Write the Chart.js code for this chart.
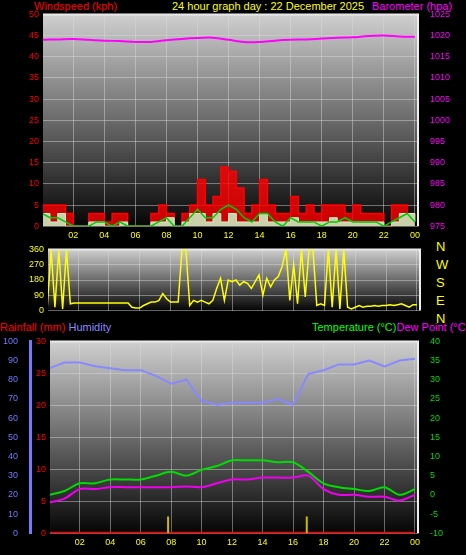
<!DOCTYPE html>
<html><head><meta charset="utf-8">
<script src="https://cdn.jsdelivr.net/npm/chart.js@4/dist/chart.umd.min.js"></script>
<style>
body{margin:0;background:#000;width:466px;height:555px;overflow:hidden;position:relative;font-family:"Liberation Sans",Arial,sans-serif}
canvas{position:absolute;left:0}
.t{position:absolute;font-size:11px;white-space:nowrap;line-height:12px}
</style></head><body>
<div class="t" style="left:34px;top:0;color:#f00">Windspeed (kph)</div>
<div class="t" style="left:172px;top:0;color:#ff0">24 hour graph day : 22 December 2025</div>
<div class="t" style="left:372px;top:0;color:#f0f">Barometer (hpa)</div>
<div class="t" style="left:0;top:321px;color:#f00">Rainfall (mm) <span style="color:#88f">Humidity</span></div>
<div class="t" style="left:312px;top:321px;color:#0f0">Temperature (°C)<span style="color:#f0f">Dew Point (°C)</span></div>
<div class="t" style="left:436px;top:238px;color:#ff0;font-size:13px;line-height:18px">N<br>W<br>S<br>E<br>N</div>
<canvas id="c1" width="466" height="240" style="top:5px"></canvas>
<canvas id="c2" width="466" height="80" style="top:240px"></canvas>
<canvas id="c3" width="466" height="220" style="top:332px"></canvas>
<script>
// half-hourly wind (kph), 0..24h
const windHours = [0,0.5,1,1.5,2,2.5,3,3.5,4,4.5,5,5.5,6,6.5,7,7.5,8,8.5,9,9.5,10,10.5,11,11.5,12,12.5,13,13.5,14,14.5,15,15.5,16,16.5,17,17.5,18,18.5,19,19.5,20,20.5,21,21.5,22,22.5,23,23.5,24];
const gust  = [5,5,5,3,0,0,3,3,1,3,3,0,0,0,3,5,3,0,3,5,11,5,7,14,13,9,3,5,11,5,3,3,7,3,5,3,5,5,5,3,5,3,3,3,0,5,5,3,3];
const speed = [3,1,3,0,0,0,1,1,0,0,1,0,0,0,1,1,2,0,1,3,3,1,3,1,3,1,1,1,3,1,1,1,2,1,1,1,1,2,1,1,1,1,1,1,0,1,3,3,1];
const avg   = [3,2,2,1,0,0,0,1,1,0,1,0,0,0,0,1,2,0,0,2,4,2,2,4,5,4,2,1,3,3,1,0,2,1,1,1,0,1,1,2,1,1,1,1,0,1,2,3,1];
const pressHours = [0,1,2,3,4,5,6,7,8,9,10,11,12,13,14,15,16,17,18,19,20,21,22,23,24];
const pressure = [1019,1019.1,1019.2,1019,1018.8,1018.7,1018.5,1018.5,1018.9,1019.2,1019.4,1019.5,1019,1018.5,1018.5,1018.8,1019,1019.1,1019.3,1019.5,1019.6,1019.9,1020,1019.8,1019.7];
// quarter-hourly wind direction
const dirHours = Array.from({length:97},(_,i)=>i/4);
const direction = [20,360,20,360, 10,360,40,45, 45,45,45,45, 45,45,45,45, 45,45,45,45, 45,45,20,15,
 15,30,40,50, 50,60,100,70, 50,50,50,360, 360,30,60,50, 60,50,40,60, 130,190,60,180, 170,180,150,170,
 160,130,170,210, 90,190,140,180, 200,260,360,60, 270,40,360,80, 360,360,30,40, 30,360,20,360,
 10,360,20,10, 20,30,20,25, 25,30,25,30, 30,35,30,35, 40,30,20,35, 35];
const humidity = [86,89,89,87,86,85,85,82,78,80,69,67,68,68,68,70,67,83,85,88,88,90,87,90,91];
const temperature = [0,1,3,3,4,4,4,5,6,5,6.5,7.5,9,9,9,8.5,8.5,6,3,2,1.5,1,2,0,1.5];
const dewPoint = [-2,-1,1.5,1.5,2,2,2,2,2,2.2,2,3,4,4,4.5,4.5,4.5,5,1.5,0,0,-0.5,-0.5,-1.5,0];
const rainfall = [0,0,0,0,0,0,0,0,0,0,0,0,0,0,0,0,0,0,0,0,0,0,0,0,0];
const markTimes = [7.8,16.9];
const hourTicks = [2,4,6,8,10,12,14,16,18,20,22,24];

const pts = (xs,ys)=>ys.map((y,i)=>({x:xs[i],y:y}));
const F = {family:"Liberation Sans",size:9};
const grid = {color:'rgba(220,220,220,0.45)',borderDash:[1,2],drawTicks:false};
const bg = {id:'bg',beforeDraw(c){const a=c.chartArea,x=c.ctx;const g=x.createLinearGradient(0,a.top,0,a.bottom);
  g.addColorStop(0,'#cfcfcf');g.addColorStop(1,'#050505');x.fillStyle=g;x.fillRect(a.left,a.top,a.right-a.left,a.bottom-a.top);
  x.strokeStyle='#eee';x.lineWidth=2;x.beginPath();x.moveTo(a.left,a.top);x.lineTo(a.right,a.top);x.lineTo(a.right,a.bottom);x.stroke();}};
function xAxis(show){return {type:'linear',min:0.05,max:24.2,grid:grid,border:{display:false},
  afterBuildTicks(s){s.ticks=hourTicks.map(v=>({value:v}));},
  ticks:{display:show,color:'#ff0',font:F,padding:4,callback:v=>String(v%24).padStart(2,'0')}};}
function yAxis(pos,w,min,max,step,col,extra){return Object.assign({position:pos,min:min,max:max,
  afterFit(s){s.width=w;},grid:grid,border:{display:false},
  ticks:{stepSize:step,color:col,font:F,padding:4,callback:v=>String(v)}},extra||{});}
const base = {responsive:false,animation:false,devicePixelRatio:1,plugins:{legend:{display:false},tooltip:{enabled:false}},
  elements:{point:{radius:0}}};

new Chart('c1',{type:'line',plugins:[bg],data:{datasets:[
  {data:pts(pressHours,pressure),yAxisID:'yp',borderColor:'#f0f',borderWidth:2,tension:0.4},
  {data:pts(windHours,avg),yAxisID:'y',borderColor:'#0c0',borderWidth:1.5},
  {data:pts(windHours,speed),yAxisID:'y',borderColor:'#c8f5c8',backgroundColor:'rgba(200,245,200,0.85)',fill:'origin',stepped:true,borderWidth:1},
  {data:pts(windHours,gust),yAxisID:'y',borderColor:'#f00',backgroundColor:'rgba(255,0,0,0.8)',fill:'origin',stepped:true,borderWidth:1.5}
 ]},options:Object.assign({},base,{layout:{padding:{top:6}},scales:{
  x:xAxis(true),
  y:yAxis('left',43,0,50,5,'#f00'),
  yp:yAxis('right',48,975,1025,5,'#f0f',{grid:{display:false}})}})});

new Chart('c2',{type:'line',plugins:[bg],data:{datasets:[
  {data:pts(dirHours,direction),borderColor:'#ff0',borderWidth:1.5}
 ]},options:Object.assign({},base,{layout:{padding:{top:6,bottom:6}},scales:{
  x:xAxis(false),
  y:yAxis('left',48,0,360,90,'#ff0'),
  y2:{position:'right',afterFit(s){s.width=46;},ticks:{display:false},grid:{display:false},border:{display:false}}}})});

const marks=[];markTimes.forEach(t=>{marks.push({x:t,y:0},{x:t,y:2.6},{x:t,y:null});});
new Chart('c3',{type:'line',plugins:[bg],data:{datasets:[
  {data:pts(pressHours,humidity),yAxisID:'yh',borderColor:'#88f',borderWidth:2},
  {data:pts(pressHours,temperature),yAxisID:'yt',borderColor:'#0d0',borderWidth:2,tension:0.3},
  {data:pts(pressHours,dewPoint),yAxisID:'yt',borderColor:'#e0e',borderWidth:2,tension:0.3},
  {data:marks,yAxisID:'yr',borderColor:'#cb0',borderWidth:2,spanGaps:false},
  {data:pts(pressHours,rainfall),yAxisID:'yr',borderColor:'#f00',borderWidth:3}
 ]},options:Object.assign({},base,{layout:{padding:{top:6}},scales:{
  x:xAxis(true),
  yr:yAxis('left',20,0,30,5,'#f00'),
  yh:yAxis('left',30,0,100,10,'#77f',{border:{display:true,color:'#77f',width:3},grid:{display:false}}),
  yt:yAxis('right',48,-10,40,5,'#0d0',{grid:{display:false}})}})});
</script></body></html>
